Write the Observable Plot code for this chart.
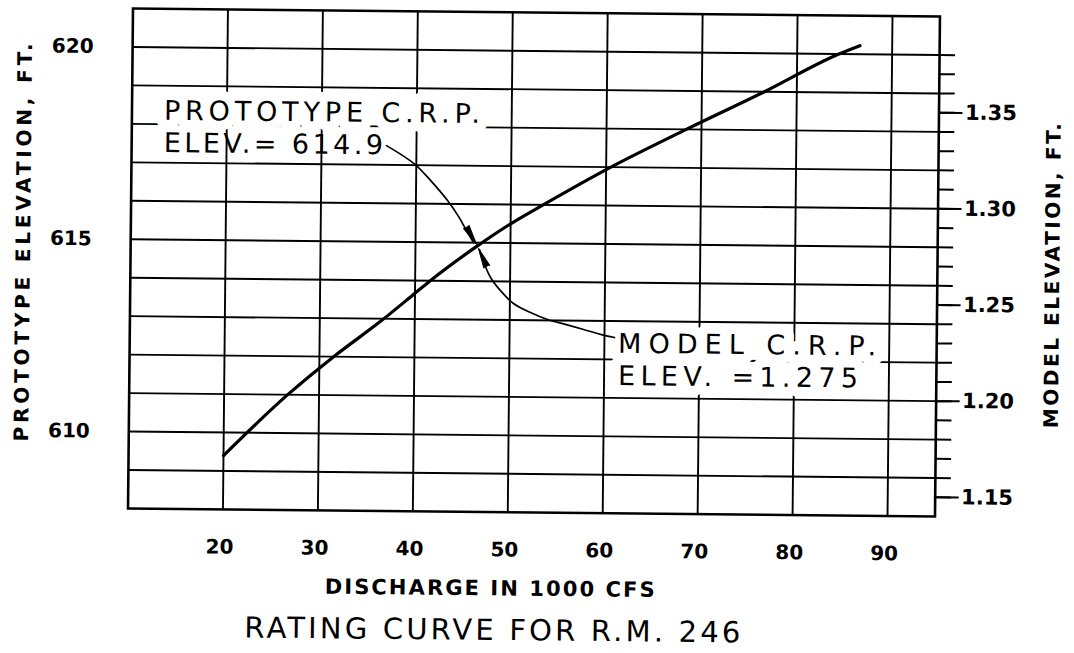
<!DOCTYPE html>
<html>
<head>
<meta charset="utf-8">
<script src="https://cdn.jsdelivr.net/npm/d3@7"></script>
<script src="https://cdn.jsdelivr.net/npm/@observablehq/plot@0.6"></script>
<style>
  html, body { margin: 0; padding: 0; background: #fff; }
  #chart svg { display: block; }
</style>
</head>
<body>
<div id="chart"></div>
<script>
// ---- Rating curve: discharge (1000 cfs) vs prototype elevation (ft) ----
const discharge = [20, 26.7, 31.5, 36.5, 40, 41.5, 46.6, 50, 53.4, 60.5, 68.4, 76.6, 84.4, 86.6];
const elevation = [609.4, 611, 612, 612.95, 613.67, 613.98, 614.93, 615.5, 616, 617, 618, 619, 620, 620.22];

// ---- axes / tick labels ----
const xTicks = [20, 30, 40, 50, 60, 70, 80, 90];
const yTicks = [610, 615, 620];
const yGrid = [609, 610, 611, 612, 613, 614, 615, 616, 617, 618, 619, 620];
const modelTicks = [1.15, 1.20, 1.25, 1.30, 1.35];
const modelMinor = [1.15, 1.16, 1.17, 1.18, 1.19, 1.20, 1.21, 1.22, 1.23, 1.24, 1.25, 1.26,
                    1.27, 1.28, 1.29, 1.30, 1.31, 1.32, 1.33, 1.34, 1.35, 1.36, 1.37, 1.38];

// ---- annotations (C.R.P. notes and their leaders) ----
const noteText = ["PROTOTYPE C.R.P.", "ELEV.= 614.9", "MODEL C.R.P.", "ELEV. =1.275"];
const noteX = [13.37, 13.40, 61.45, 61.48];
const noteY = [618.34, 617.50, 612.40, 611.56];
const leader1X = [36.84, 39.76, 41.51, 43.33, 44.50, 45.36, 46.11];
const leader1Y = [617.50, 617.04, 616.61, 616.09, 615.68, 615.31, 615.00];
const leader2X = [46.75, 47.18, 47.94, 49.00, 50.38, 52.18, 53.99, 55.88, 57.79, 59.58, 61.06];
const leader2Y = [614.82, 614.51, 614.10, 613.76, 613.43, 613.20, 613.02, 612.90, 612.77, 612.65, 612.57];
const headX = [46.42, 46.64];
const headY = [614.96, 614.85];
const headAngle = [149, 335];

// model elevation -> prototype elevation (1:50 vertical scale)
const toProto = m => 608.5 + (m - 1.15) * 50;
const toModel = p => (p - 608.5) / 50 + 1.15;

const curve = discharge.map((x, i) => ({x, y: elevation[i]}));
const lead1 = leader1X.map((x, i) => ({x, y: leader1Y[i]}));
const lead2 = leader2X.map((x, i) => ({x, y: leader2Y[i]}));
const heads = headX.map((x, i) => ({x, y: headY[i], a: headAngle[i]}));
const notes = noteText.map((t, i) => ({t, x: noteX[i], y: noteY[i], i}));

const plot = Plot.plot({
  width: 1074,
  height: 653,
  marginLeft: 130,
  marginRight: 137,
  marginTop: 12,
  marginBottom: 141,
  style: {fontFamily: "DejaVu Sans", background: "white", color: "black"},
  x: {domain: [10, 95]},
  y: {domain: [608, 621]},
  marks: [
    Plot.ruleX(xTicks, {stroke: "black", strokeWidth: 1.9}),
    Plot.ruleY(yGrid, {stroke: "black", strokeWidth: 1.9}),
    Plot.frame({stroke: "black", strokeWidth: 2.6}),
    Plot.axisX(xTicks, {tickSize: 0, tickPadding: 30, dx: -3, fontSize: 20, fontWeight: "bold", label: null}),
    Plot.axisY(yTicks, {anchor: "left", tickSize: 0, tickPadding: 39, fontSize: 20, fontWeight: "bold", label: null}),
    Plot.axisY(modelMinor.map(toProto), {anchor: "right", tickSize: 15, strokeWidth: 2, tickFormat: () => "", label: null}),
    Plot.axisY(modelTicks.map(toProto), {anchor: "right", tickSize: 23, tickPadding: 3, strokeWidth: 2,
      fontSize: 21, fontWeight: "bold", tickFormat: d => toModel(d).toFixed(2), label: null}),
    Plot.line(curve, {x: "x", y: "y", stroke: "black", strokeWidth: 3.2, curve: "monotone-x"}),
    // white lettering ground that interrupts the grid behind the notes
    Plot.text(notes.filter(d => d.i !== 1), {x: "x", y: "y", text: "t", textAnchor: "start", lineAnchor: "middle",
      fontSize: 27, fill: "white", stroke: "white", strokeWidth: 20, strokeLinejoin: "round"}),
    Plot.line(lead1, {x: "x", y: "y", stroke: "black", strokeWidth: 1.7, curve: "catmull-rom"}),
    Plot.line(lead2, {x: "x", y: "y", stroke: "black", strokeWidth: 1.7, curve: "catmull-rom"}),
    Plot.vector(heads, {x: "x", y: "y", rotate: "a", length: 20, r: 3.2, shape: "spike", anchor: "end",
      stroke: "black", fill: "black", strokeWidth: 1}),
    Plot.text(notes, {x: "x", y: "y", text: "t", textAnchor: "start", lineAnchor: "middle",
      fontSize: 27, fill: "black"}),
    Plot.text(["DISCHARGE IN 1000 CFS"], {text: d => d, frameAnchor: "bottom", textAnchor: "middle", lineAnchor: "middle",
      dx: -41, dy: 76.5, fontSize: 21, fontWeight: "bold"}),
    Plot.text(["RATING CURVE FOR R.M. 246"], {text: d => d, frameAnchor: "bottom", textAnchor: "middle", lineAnchor: "middle",
      dx: -38, dy: 118.5, fontSize: 29}),
    Plot.text(["PROTOTYPE ELEVATION, FT."], {text: d => d, frameAnchor: "left", textAnchor: "middle", lineAnchor: "middle",
      rotate: -90, dx: -107, dy: -15, fontSize: 20, fontWeight: "bold"}),
    Plot.text(["MODEL ELEVATION, FT."], {text: d => d, frameAnchor: "right", textAnchor: "middle", lineAnchor: "middle",
      rotate: -90, dx: 115.5, dy: 8, fontSize: 20, fontWeight: "bold"})
  ]
});

// stretch lettering to the widths of the hand lettering
const widths = new Map([
  ["PROTOTYPE C.R.P.", 316], ["ELEV.= 614.9", 219], ["MODEL C.R.P.", 258], ["ELEV. =1.275", 240],
  ["DISCHARGE IN 1000 CFS", 330], ["RATING CURVE FOR R.M. 246", 496],
  ["PROTOTYPE ELEVATION, FT.", 398], ["MODEL ELEVATION, FT.", 305]
]);
d3.select(plot).selectAll("text").each(function() {
  const w = widths.get(this.textContent);
  if (w) d3.select(this).attr("textLength", w).attr("lengthAdjust", "spacing");
});

// the scanned sheet is slightly skewed
plot.style.transformOrigin = "534px 262px";
plot.style.transform = "rotate(0.57deg)";

document.getElementById("chart").appendChild(plot);
</script>
</body>
</html>
